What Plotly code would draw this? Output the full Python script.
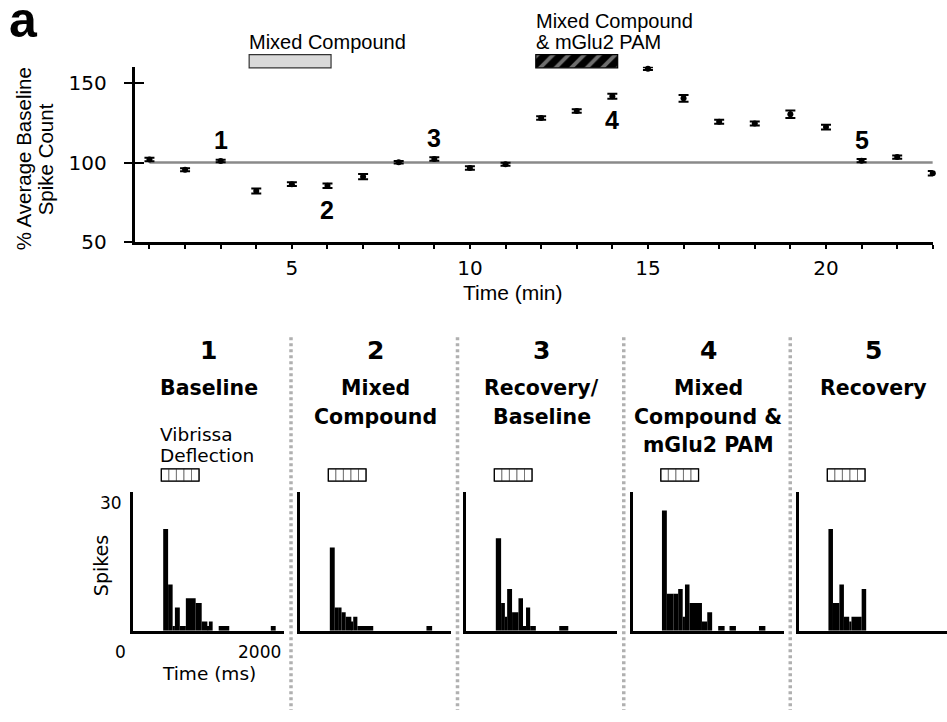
import plotly.graph_objects as go

W, H = 947, 722


def px(x):
    return x / W


def py(y):
    return 1 - y / H


AR = "Liberation Sans, Arial, sans-serif"
DJ = "DejaVu Sans, sans-serif"

# ---------------- top panel data ----------------
time_min = list(range(1, 24))
pct_mean = [102.0, 95.5, 101.0, 82.2, 86.5, 85.5, 91.2, 100.2, 102.2, 96.7, 99.0,
            128.0, 132.3, 141.6, 158.9, 140.3, 125.6, 124.5, 130.3, 122.3, 101.2, 103.5, 93.4]
pct_sem = [1.1, 0.9, 0.8, 1.6, 1.2, 1.4, 1.6, 0.8, 1.1, 1.1, 0.9,
           1.1, 1.1, 1.6, 0.9, 2.1, 1.2, 1.3, 2.4, 1.5, 1.0, 1.0, 1.4]
baseline_level = 100
y_ticks = [50, 100, 150]
x_label_every = 5

event_labels = ["1", "2", "3", "4", "5"]
event_times = [3, 6, 9, 14, 21]
event_above = [True, False, True, False, True]

treat_labels = ["Mixed Compound", "Mixed Compound<br>& mGlu2 PAM"]
treat_start = [3.8, 11.85]
treat_end = [6.1, 14.15]
treat_hatched = [False, True]

# ---------------- PSTH panels ----------------
panel_numbers = ["1", "2", "3", "4", "5"]
panel_titles = ["Baseline", "Mixed<br>Compound", "Recovery/<br>Baseline",
                "Mixed<br>Compound &<br>mGlu2 PAM", "Recovery"]
p1_edges = [400, 465, 525, 555, 620, 700, 830, 910, 985, 1005, 1055, 1135, 1275, 1825, 1890]
p1_counts = [22, 10, 1, 5, 1, 7, 6, 2, 1, 2, 0, 1, 0, 1]
p2_edges = [395, 460, 515, 550, 605, 680, 705, 760, 970, 1675, 1750]
p2_counts = [18, 5, 5, 4, 3, 2, 3, 1, 0, 1]
p3_edges = [395, 465, 515, 545, 610, 695, 755, 795, 850, 925, 1235, 1355]
p3_counts = [20, 6, 3, 9, 4, 7, 1, 5, 1, 0, 1]
p4_edges = [390, 455, 545, 605, 665, 695, 755, 920, 990, 1055, 1135, 1220, 1285, 1370, 1675, 1760]
p4_counts = [26, 8, 8, 9, 3, 10, 6, 2, 4, 0, 1, 0, 1, 0, 1]
p5_edges = [390, 450, 535, 595, 665, 695, 830, 890]
p5_counts = [22, 6, 10, 3, 2, 3, 9]
stim_onsets = [375, 475, 575, 675, 775]
stim_width = 100
hist_xmax = 2000
hist_ymax = 30

all_edges = [p1_edges, p2_edges, p3_edges, p4_edges, p5_edges]
all_counts = [p1_counts, p2_counts, p3_counts, p4_counts, p5_counts]

# ---------------- geometry (pixels) ----------------
top_x_px = (134.5, 932.8)
top_y_px = (68, 246.5)
treat_y_px = (54.3, 70.3)
hist_x_px = [(133, 284), (300, 451), (466, 617), (632.5, 783.5), (799, 947)]
hist_y_px = (500.3, 641.3)
stim_y_px = (475.7, 490.3)
std_len = 151.0

fig = go.Figure()

# baseline reference line
fig.add_trace(go.Scatter(
    x=[time_min[0], time_min[-1]], y=[baseline_level, baseline_level],
    mode="lines", line=dict(color="#8a8a8a", width=2.5),
    xaxis="x", yaxis="y", hoverinfo="skip", cliponaxis=False))

# mean +/- sem
fig.add_trace(go.Scatter(
    x=time_min, y=pct_mean, mode="markers",
    marker=dict(color="black", size=6),
    error_y=dict(type="data", array=pct_sem, color="black", thickness=2, width=5),
    xaxis="x", yaxis="y", cliponaxis=False))

# invisible trace for the inner-tick overlay axis
fig.add_trace(go.Scatter(
    x=[time_min[0]], y=[baseline_level], mode="markers",
    marker=dict(opacity=0), xaxis="x", yaxis="y13", hoverinfo="skip"))

# treatment bars
for s, e, hatched in zip(treat_start, treat_end, treat_hatched):
    if hatched:
        marker = dict(color="black",
                      pattern=dict(shape="/", bgcolor="black", fgcolor="#dcdcdc",
                                   size=11, solidity=0.35),
                      line=dict(color="black", width=1.2))
    else:
        marker = dict(color="#d9d9d9", line=dict(color="#333333", width=1.2))
    fig.add_trace(go.Bar(x=[(s + e) / 2], y=[1], width=[e - s], base=0,
                         marker=marker, xaxis="x", yaxis="y12", hoverinfo="skip"))

# PSTH histograms and stimulus markers
for i, (edges, counts) in enumerate(zip(all_edges, all_counts)):
    xa = "x%d" % (i + 2)
    ya = "y%d" % (i + 2)
    ys = "y%d" % (i + 7)
    mids = [(a + b) / 2 for a, b in zip(edges[:-1], edges[1:])]
    widths = [b - a for a, b in zip(edges[:-1], edges[1:])]
    fig.add_trace(go.Bar(x=mids, y=counts, width=widths, base=0,
                         marker=dict(color="black", line=dict(width=0)),
                         xaxis=xa, yaxis=ya))
    fig.add_trace(go.Bar(x=[o + stim_width / 2 for o in stim_onsets], y=[1] * len(stim_onsets),
                         width=[stim_width] * len(stim_onsets), base=0,
                         marker=dict(color="white", line=dict(color="#777777", width=1)),
                         xaxis=xa, yaxis=ys, hoverinfo="skip"))
    total = stim_onsets[-1] + stim_width - stim_onsets[0]
    fig.add_trace(go.Bar(x=[stim_onsets[0] + total / 2], y=[1], width=[total], base=0,
                         marker=dict(color="rgba(0,0,0,0)", line=dict(color="black", width=1.3)),
                         xaxis=xa, yaxis=ys, hoverinfo="skip"))

layout = dict(width=W, height=H, margin=dict(l=0, r=0, t=0, b=0),
              paper_bgcolor="white", plot_bgcolor="rgba(0,0,0,0)",
              showlegend=False, barmode="overlay")

layout["xaxis"] = dict(
    domain=[px(top_x_px[0]), px(top_x_px[1])], range=[0.58, time_min[-1]],
    tickvals=time_min,
    ticktext=[str(t) if t % x_label_every == 0 else "" for t in time_min],
    ticks="outside", ticklen=4, tickwidth=1.5, tickcolor="black",
    showline=True, linewidth=2.5, linecolor="black",
    showgrid=False, zeroline=False, anchor="y",
    tickfont=dict(family=DJ, size=20, color="black"), ticklabelstandoff=2)
layout["yaxis"] = dict(
    domain=[py(top_y_px[1]), py(top_y_px[0])], range=[50, 160],
    tickvals=y_ticks, ticks="outside", ticklen=8, tickwidth=2, tickcolor="black",
    showline=True, linewidth=2.5, linecolor="black",
    showgrid=False, zeroline=False, anchor="x",
    tickfont=dict(family=DJ, size=20, color="black"), ticklabelstandoff=13)
layout["yaxis13"] = dict(
    overlaying="y", range=[50, 160], tickvals=y_ticks, ticks="inside", ticklen=9,
    tickwidth=2, tickcolor="black", showticklabels=False, showline=False,
    showgrid=False, zeroline=False, anchor="x", side="left")
layout["yaxis12"] = dict(domain=[py(treat_y_px[1]), py(treat_y_px[0])],
                         range=[-0.1, 1.1], visible=False, anchor="x")

for i, (l, r) in enumerate(hist_x_px):
    xmax = hist_xmax * (r - l) / std_len
    layout["xaxis%d" % (i + 2)] = dict(
        domain=[px(l), px(r)], range=[0, xmax], showline=True, linewidth=3,
        linecolor="black", ticks="", showticklabels=False, showgrid=False,
        zeroline=False, anchor="y%d" % (i + 2))
    layout["yaxis%d" % (i + 2)] = dict(
        domain=[py(hist_y_px[1]), py(hist_y_px[0])], range=[0, hist_ymax],
        showline=True, linewidth=3, linecolor="black", ticks="",
        showticklabels=False, showgrid=False, zeroline=False, anchor="x%d" % (i + 2))
    layout["yaxis%d" % (i + 7)] = dict(
        domain=[py(stim_y_px[1]), py(stim_y_px[0])], range=[-0.08, 1.08],
        visible=False, anchor="x%d" % (i + 2))

ann = []


def A(**kw):
    kw.setdefault("xanchor", "center")
    kw.setdefault("yanchor", "middle")
    kw.setdefault("showarrow", False)
    ann.append(kw)


# panel letter
A(text="<b>a</b>", x=px(23.3), y=py(20.5), xref="paper", yref="paper",
  font=dict(family=AR, size=50, color="black"))
# y title (two lines)
for txt, xc in [("% Average Baseline", 23), ("Spike Count", 45)]:
    A(text=txt, x=px(xc), y=py(162), xref="paper", yref="paper", textangle=-90,
      font=dict(family=AR, size=20.5, color="black"))
# x title
A(text="Time (min)", x=px(513), y=py(297), xref="paper", yref="paper",
  font=dict(family=AR, size=21, color="black"))
# treatment labels
for lab, s in zip(treat_labels, treat_start):
    lines = lab.split("<br>")
    n = len(lines)
    for j, line in enumerate(lines):
        yc = 42.5 - (n - 1 - j) * 21
        A(text=line, x=s, xref="x", y=py(yc), yref="paper", xanchor="left", xshift=-2,
          font=dict(family=AR, size=20, color="black"))
# event labels
for lab, t, above in zip(event_labels, event_times, event_above):
    v = pct_mean[time_min.index(t)]
    A(text="<b>%s</b>" % lab, x=t, y=v, xref="x", yref="y",
      yshift=21 if above else -24, font=dict(family=AR, size=25, color="black"))

# bottom panel texts
for i, (num, title) in enumerate(zip(panel_numbers, panel_titles)):
    xd = "x%d domain" % (i + 2)
    A(text="<b>%s</b>" % num, x=0.5, xref=xd, y=py(356.7), yref="paper",
      font=dict(family=DJ, size=25, color="black"))
    for j, line in enumerate(title.split("<br>")):
        A(text="<b>%s</b>" % line, x=0.5, xref=xd, y=py(395 + 28.7 * j), yref="paper",
          font=dict(family=DJ, size=20.5, color="black"))

for j, line in enumerate(["Vibrissa", "Deflection"]):
    A(text=line, x=stim_onsets[0], xref="x2", xanchor="left", xshift=-3,
      y=py(442.3 + 21 * j), yref="paper", font=dict(family=DJ, size=18.5, color="black"))

A(text="Spikes", x=px(101.7), y=py(575), xref="paper", yref="paper", textangle=-90,
  font=dict(family=DJ, size=19, color="black"))
A(text=str(hist_ymax), x=0, xref="x2 domain", xanchor="right", xshift=-9,
  y=py(511.7), yref="paper", font=dict(family=DJ, size=17, color="black"))
A(text="0", x=0, xref="x2", xshift=-13, y=py(663), yref="paper",
  font=dict(family=DJ, size=17, color="black"))
A(text=str(hist_xmax), x=hist_xmax, xref="x2", xanchor="right", xshift=-1,
  y=py(663), yref="paper", font=dict(family=DJ, size=17, color="black"))
A(text="Time (ms)", x=0.5, xref="x2 domain", y=py(685), yref="paper",
  font=dict(family=DJ, size=18.5, color="black"))

layout["annotations"] = ann

# dotted separators between panels
shapes = []
for (l0, r0), (l1, r1) in zip(hist_x_px[:-1], hist_x_px[1:]):
    xm = (r0 + l1) / 2 - 1
    shapes.append(dict(type="line", xref="paper", yref="paper", x0=px(xm), x1=px(xm),
                       y0=py(343), y1=0, line=dict(color="#b0b0b0", width=3.5, dash="3px,3px")))
layout["shapes"] = shapes

fig.update_layout(**layout)
fig.write_html("out.html")
